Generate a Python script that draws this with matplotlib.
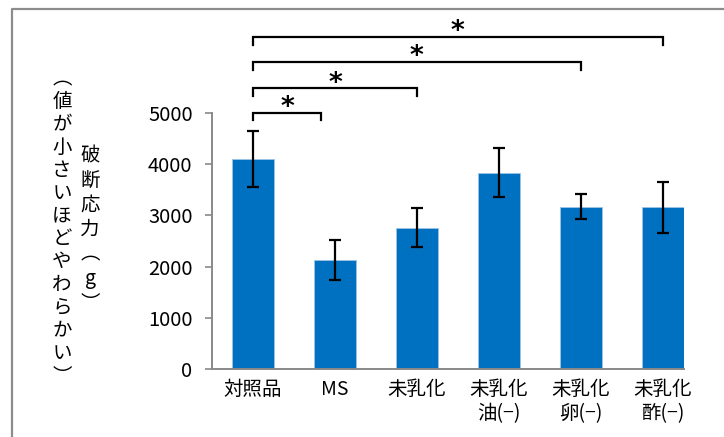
import numpy as np
import matplotlib.pyplot as plt
from matplotlib.lines import Line2D

plt.rcParams['font.family'] = ['Noto Sans CJK JP', 'DejaVu Sans']

# 破断応力の平均値と標準偏差
groups = ['対照品', 'MS', '未乳化', '未乳化\n油(−)', '未乳化\n卵(−)', '未乳化\n酢(−)']
means = [4100, 2130, 2760, 3830, 3170, 3160]
sds = [550, 390, 385, 475, 245, 495]

# 有意差の括弧（左端, 右端, 高さ）
sig_left = [0, 0, 0, 0]
sig_right = [0.83, 2, 4, 5]
sig_height = [5000, 5480, 5990, 6480]

W, H = 724, 437
fig = plt.figure(figsize=(W / 100, H / 100), dpi=100)
ax = fig.add_axes([212 / W, 1 - 369.3 / H, 472 / W, 256.5 / H])

x = np.arange(len(groups))
ax.bar(x, means, width=0.51, color='#0070C0', edgecolor='#9DC3E6', linewidth=0.6,
       yerr=sds, capsize=4.3,
       error_kw=dict(elinewidth=1.6, capthick=1.6, ecolor='black'))

ax.set_xlim(-0.5, 5.26)
ax.set_ylim(0, 5000)
ax.set_yticks(range(0, 5001, 1000))
ax.set_xticks(x)
ax.set_xticklabels(groups, fontsize=14, linespacing=1.2)
ax.tick_params(axis='x', length=0, pad=7)
ax.tick_params(axis='y', length=5, width=1.2, color='#898989', pad=9, labelsize=14.5)
for s in ['top', 'right']:
    ax.spines[s].set_visible(False)
for s in ['left', 'bottom']:
    ax.spines[s].set_color('#898989')
    ax.spines[s].set_linewidth(1.4)

# 有意差の括弧と＊
for l, r, h in zip(sig_left, sig_right, sig_height):
    ax.plot([l, l, r, r], [h - 150, h, h, h - 150], color='black', lw=1.6,
            clip_on=False, solid_joinstyle='miter')
    ax.text((l + r) / 2, h + 90, '*', ha='center', va='center', fontsize=19,
            family='DejaVu Sans', fontweight='bold', clip_on=False)


# 縦書きのラベル
def vertical_text(x_px, y_px, text, step, size=14):
    for ch in text:
        fig.text(x_px / W, 1 - y_px / H, ch, ha='center', va='center', fontsize=size)
        y_px += step


vertical_text(62, 79, '︵値が小さいほどやわらかい︶', 22.85)
vertical_text(90, 156, '破断応力︵g︶', 24.5)

# 外枠
fig.add_artist(Line2D([12 / W, 12 / W, 1], [0, 1 - 9 / H, 1 - 9 / H],
                      transform=fig.transFigure, color='#8c8c8c', lw=1.6))

fig.savefig('out.png', dpi=100)
